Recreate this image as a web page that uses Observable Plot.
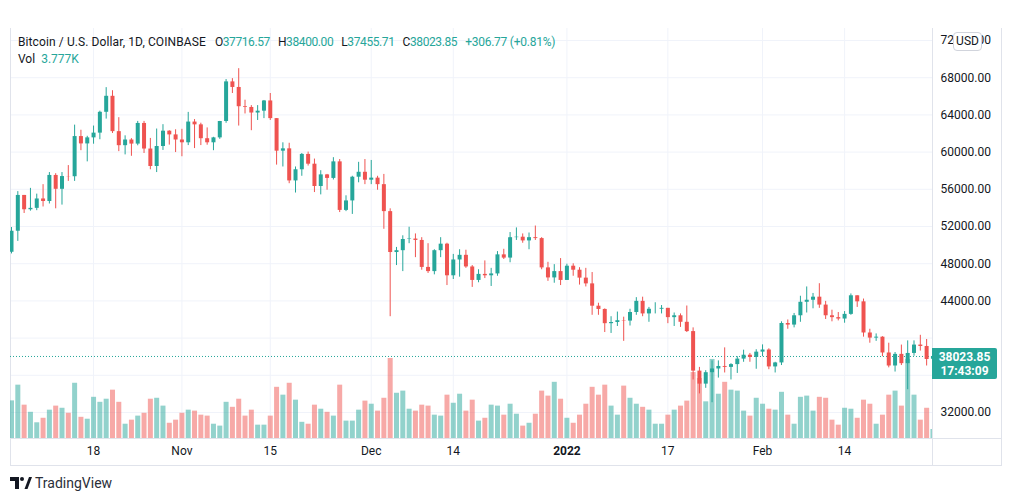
<!DOCTYPE html>
<html><head><meta charset="utf-8">
<script src="https://cdn.jsdelivr.net/npm/d3@7"></script>
<script src="https://cdn.jsdelivr.net/npm/@observablehq/plot@0.6"></script>
<style>
html,body{margin:0;padding:0;background:#fff;}
#wrap{position:relative;width:1012px;height:501px;overflow:hidden;font-family:Roboto,"Noto Sans",sans-serif;color:#131722;}
.layer{position:absolute;left:0;top:0;}
.ln{position:absolute;background:#e0e3eb;}
#hdr{position:absolute;left:18px;top:34px;font-size:12px;line-height:17px;white-space:nowrap;}
#hdr .sym{letter-spacing:0.1px;}
#hdr .v{color:#26a69a;}
#hdr .g{margin-left:8px;letter-spacing:-0.4px;}
#hdr .ch{margin-left:8px;letter-spacing:-0.25px;}
#usd{position:absolute;left:953px;top:32px;width:27px;height:17px;border:1px solid #d1d4dc;border-radius:4px;background:#fff;font-size:12px;line-height:17px;text-align:center;box-sizing:content-box;}
#lbl{position:absolute;left:932px;width:65px;height:31px;background:#26a69a;border-radius:0 2px 2px 0;color:#fff;font-weight:bold;font-size:12px;line-height:14px;text-align:center;padding-top:2px;box-sizing:border-box;}
#tv{position:absolute;left:10px;top:475px;display:flex;align-items:center;font-size:14px;color:#2a2e39;}
</style></head>
<body><div id="wrap"></div>
<script>
// ---- data (Coinbase BTC/USD, 1D) ----
const firstDay = "2021-10-05";
const lastDay = "2022-02-28";
const opens = [
49230,51490,55340,53800,53950,54960,54690,57490,56000,57370,57350,61670,60880,61530,62040,64280,66000,62200,60690,61300,60860,63080,60330,58450,60600,62250,61850,
61300,61000,63230,62930,61440,61000,61530,63290,67550,66950,64880,64800,64200,64400,65500,63600,60100,60350,56900,58100,59750,58700,56300,57550,57170,58950,53730,54750,57300,57830,
56980,57200,56500,53600,49200,49400,50600,50650,50500,47600,47150,49400,50100,46700,48400,48900,47650,46200,46850,46700,46900,48950,48600,50800,50850,50450,50800,50700,47550,46470,47150,
46200,47730,47300,46450,45830,43430,43080,41550,41680,41870,41830,42750,43950,42600,43100,43100,43200,42200,42400,41700,40700,36450,35050,36280,36680,36950,36850,37150,37740,38160,37920,
38490,38720,36900,37330,41570,41400,42400,43850,44070,44400,43550,42400,42200,42050,42550,44550,43900,40550,40000,40100,38400,37000,38250,37250,38350,39250,39100,37716.57];
const highs = [
51890,55750,55340,56100,55480,56500,57800,57680,57800,58550,62900,62350,61700,62800,64400,66930,66600,63700,61750,61450,63300,63300,61470,62480,62950,62300,62400,
62450,64270,63500,63110,62600,61590,63300,67800,67900,68970,65580,65000,65000,65550,66300,63600,61000,60950,58400,59850,60000,59250,58000,57600,59400,59200,55300,57400,58900,59200,
59100,57400,57600,53900,49750,51000,51920,51200,50800,50150,49500,50800,50200,49000,49500,49450,47800,47350,48300,47500,49300,49550,51350,51850,51200,51300,52050,50800,48150,47900,48550,
47950,47990,47570,47500,47050,43750,43140,42300,42800,42250,43100,44350,44400,43300,43800,43500,43200,42700,42600,43450,41100,36850,36500,37550,37550,38950,37250,38000,38700,38350,38750,
39270,38850,37400,41750,41950,42650,44500,45500,44800,45850,43950,43000,42750,42850,44750,44550,44200,40950,40450,40150,39450,38450,39250,39700,39700,40300,39850,38400];
const lows = [
49050,50400,53400,53650,53700,54100,54420,53900,54300,56850,56850,60150,58950,60850,61330,63550,62000,60050,59700,59550,60680,59850,58100,57800,60180,60750,59950,
59500,60700,60380,60700,60740,60150,61370,63100,66300,62800,64100,62300,63400,63600,63400,58600,58400,56600,55600,57400,58500,55650,55400,55900,57000,53500,53600,53300,56700,56500,
56500,55900,51700,42300,47800,47150,50150,48650,47300,46950,46800,48650,45650,46300,46550,47500,45450,45950,46400,45550,46650,48450,48100,50500,50200,49500,50500,47350,46100,45900,45650,
46200,46650,45700,45500,42450,42450,40600,40500,41250,39650,41300,42450,42300,41700,42600,42600,41550,41250,41150,40600,35500,34000,34600,33050,35700,36250,35500,36200,37400,37400,36650,
38000,36600,36250,37050,40950,41100,41700,42700,43150,43200,42000,41750,41850,41600,42450,43300,40100,39450,39650,38000,36800,36350,37050,34450,38050,38600,37000,37455.71];
const closes = [
51490,55340,53800,53950,54960,54690,57490,56000,57370,57350,61670,60880,61530,62040,64280,66000,62200,60690,61300,60860,63080,60330,58450,60600,62250,61850,61300,
61000,63230,62930,61440,61000,61530,63290,67550,66950,64880,64800,64200,64400,65500,63600,60100,60350,56900,58100,59750,58700,56300,57550,57170,58950,53730,54750,57300,57830,56980,
57200,56500,53600,49200,49400,50600,50650,50500,47600,47150,49400,50100,46700,48400,48900,47650,46200,46850,46700,46900,48950,48600,50800,50850,50450,50800,50700,47550,46470,47150,46200,
47730,47300,46450,45830,43430,43080,41550,41680,41870,41830,42750,43950,42600,43100,43100,43200,42200,42400,41700,40700,36450,35050,36280,36680,36950,36850,37150,37740,38160,37920,38490,
38720,36900,37330,41570,41400,42400,43850,44070,44400,43550,42400,42200,42050,42550,44550,43900,40550,40000,40100,38400,37000,38250,37250,38350,39250,39100,37700,38023.85];
// volume, thousands of BTC
const volumes = [
15.8,22.4,14.0,11.0,6.6,8.5,11.9,13.6,12.7,10.6,23.2,8.9,8.1,17.3,15.2,16.5,20.3,15.2,6.0,7.7,9.4,10.6,16.5,16.9,13.6,6.4,7.7,
10.6,11.9,11.5,9.8,9.4,6.0,5.2,15.2,13.1,16.5,9.4,11.9,5.6,5.6,9.4,21.5,18.2,23.2,16.1,6.8,6.0,14.0,12.3,11.0,9.4,22.4,7.3,7.3,11.9,15.7,
14.4,11.5,16.9,33.6,19.0,19.9,12.3,11.5,14.0,13.6,9.8,9.4,18.2,14.8,18.6,11.5,16.1,7.3,8.5,14.0,13.6,9.8,14.4,10.2,5.2,6.4,10.2,19.9,17.8,23.6,16.5,
8.5,6.4,9.8,14.4,21.5,18.2,22.4,13.6,9.8,22.0,16.9,14.4,13.1,11.9,6.0,6.0,9.8,11.9,13.6,15.7,27.7,25.2,15.4,33.2,18.6,23.6,20.3,19.9,11.5,9.4,16.9,
14.4,12.3,11.9,19.4,9.8,6.0,17.3,17.8,11.5,17.3,16.9,7.7,5.6,12.7,12.3,8.5,16.1,14.4,6.0,9.8,18.2,19.9,13.6,33.2,18.2,7.7,12.7,3.777];
const priceTicks = [32000,36000,40000,44000,48000,52000,56000,60000,64000,68000,72000];
const timeTickDates = ["2021-10-18","2021-11-01","2021-11-15","2021-12-01","2021-12-14","2022-01-01","2022-01-17","2022-02-01","2022-02-14"];
const timeTickLabels = ["18","Nov","15","Dec","14","2022","17","Feb","14"];
const header = {symbol:"Bitcoin / U.S. Dollar, 1D, COINBASE", change:"+306.77 (+0.81%)", vol:"3.777K", countdown:"17:43:09"};

// ---- build ----
const teal = "#26a69a", red = "#ef5350";
const parse = d3.utcParse("%Y-%m-%d");
const days = d3.utcDay.range(parse(firstDay), d3.utcDay.offset(parse(lastDay), 1));
const data = days.map((date, i) => ({date, o: opens[i], h: highs[i], l: lows[i], c: closes[i], v: volumes[i],
  col: closes[i] >= opens[i] ? teal : red}));
const last = data[data.length - 1];
const DAY = 864e5;
const t0 = +parse(firstDay), tN = +parse(lastDay);
const xDomain = [new Date(t0 - 0.16 * DAY), new Date(tN - 0.07 * DAY)];
const yDomain = [29204, 73290];
const tickDates = timeTickDates.map(parse);
const labelOf = new Map(tickDates.map((d, i) => [+d, timeTickLabels[i]]));
// price labels hidden behind the last-price tag (as TradingView does)
const axisTicks = priceTicks.filter(t => Math.abs(t - last.c) > 2500);

const common = {width: 1012, height: 501, marginLeft: 10, marginRight: 80, marginTop: 28, marginBottom: 63,
  style: {background: "transparent", fontFamily: "Roboto, 'Noto Sans', sans-serif", fontSize: "12px", overflow: "visible"}};

const wrap = document.getElementById("wrap");
function addLayer(el){ el.classList.add("layer"); wrap.appendChild(el); return el; }

// grid layer
addLayer(Plot.plot({...common,
  x: {type: "utc", domain: xDomain, axis: null},
  y: {domain: yDomain, axis: null},
  marks: [
    Plot.gridY(priceTicks, {stroke: "#f0f3fa", strokeOpacity: 1}),
    Plot.gridX(tickDates, {stroke: "#f0f3fa", strokeOpacity: 1})
  ]}));

// frame lines
[[10,28,1,438],[1001,28,1,438],[10,465,992,1],[10,438,992,1],[932,28,1,438]].forEach(([l,t,w,h])=>{
  const d = document.createElement("div"); d.className = "ln";
  Object.assign(d.style, {left:l+"px", top:t+"px", width:w+"px", height:h+"px"}); wrap.appendChild(d);
});

// volume layer
addLayer(Plot.plot({...common,
  x: {type: "utc", domain: xDomain, axis: null},
  y: {domain: [0, 172.2], axis: null},
  color: {type: "identity"},
  marks: [
    Plot.ruleX(data, {x: "date", y1: 0, y2: "v", stroke: "col", strokeWidth: 5, strokeOpacity: 0.5, clip: true})
  ]}));

// price layer
const price = addLayer(Plot.plot({...common,
  x: {type: "utc", domain: xDomain},
  y: {domain: yDomain},
  color: {type: "identity"},
  marks: [
    Plot.ruleY([last.c], {stroke: teal, strokeDasharray: "1,2", clip: true}),
    Plot.ruleX(data, {x: "date", y1: "l", y2: "h", stroke: "col", strokeWidth: 1, clip: true}),
    Plot.ruleX(data, {x: "date", y1: "o", y2: "c", stroke: "col", strokeWidth: 4, clip: true}),
    Plot.axisY(axisTicks, {anchor: "right", tickSize: 0, tickPadding: 8, tickFormat: d => d.toFixed(2), color: "#131722", fontSize: 12}),
    Plot.axisX(tickDates.filter(d => labelOf.get(+d) !== "2022"), {anchor: "bottom", tickSize: 0, tickPadding: 8, tickFormat: d => labelOf.get(+d), color: "#131722", fontSize: 12}),
    Plot.axisX(tickDates.filter(d => labelOf.get(+d) === "2022"), {anchor: "bottom", tickSize: 0, tickPadding: 8, tickFormat: d => labelOf.get(+d), color: "#131722", fontSize: 12, fontWeight: "bold"})
  ]}));

// header legend
const hdr = document.createElement("div"); hdr.id = "hdr";
const f2 = d => d.toFixed(2);
hdr.innerHTML = `<div><span class="sym">${header.symbol}</span><span class="g" style="margin-left:9px">O<span class="v">${f2(last.o)}</span></span><span class="g">H<span class="v">${f2(last.h)}</span></span><span class="g">L<span class="v">${f2(last.l)}</span></span><span class="g">C<span class="v">${f2(last.c)}</span></span><span class="ch v">${header.change}</span></div><div>Vol<span class="v" style="margin-left:6px">${header.vol}</span></div>`;
wrap.appendChild(hdr);

// USD badge
const usd = document.createElement("div"); usd.id = "usd"; usd.textContent = "USD"; wrap.appendChild(usd);

// last price label
const py = price.scale("y").apply(last.c);
const lbl = document.createElement("div"); lbl.id = "lbl";
lbl.style.top = (py - 8) + "px";
lbl.innerHTML = `${f2(last.c)}<br>${header.countdown}`;
wrap.appendChild(lbl);

// TradingView mark
const tv = document.createElement("div"); tv.id = "tv";
tv.innerHTML = `<svg width="22" height="14" viewBox="0 0 22 14" style="margin-right:3px"><path d="M0 1h9v12h-4v-8h-5z" fill="#131722"/><circle cx="12" cy="3" r="2" fill="#131722"/><path d="M14.5 13l4.5-12h3l-4.5 12z" fill="#131722"/></svg><span>TradingView</span>`;
wrap.appendChild(tv);
</script>
</body></html>
